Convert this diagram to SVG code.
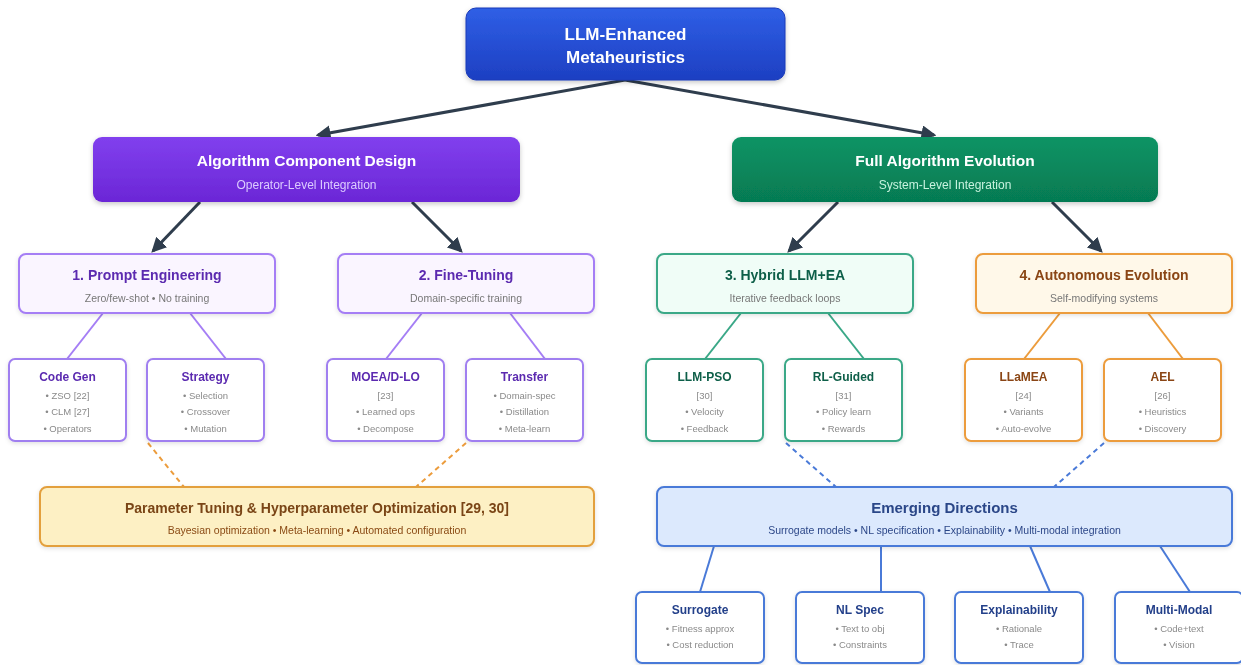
<svg xmlns="http://www.w3.org/2000/svg" width="1241" height="665" viewBox="0 0 1241 665">
<defs>
<linearGradient id="gBlue" x1="0" y1="0" x2="0" y2="1"><stop offset="0" stop-color="#2f5fe6"/><stop offset="1" stop-color="#1d3fc2"/></linearGradient>
<linearGradient id="gPurple" x1="0" y1="0" x2="0" y2="1"><stop offset="0" stop-color="#8140ee"/><stop offset="1" stop-color="#6b26d6"/></linearGradient>
<linearGradient id="gGreen" x1="0" y1="0" x2="0" y2="1"><stop offset="0" stop-color="#0a9465"/><stop offset="1" stop-color="#067a52"/></linearGradient>
<filter id="sh" x="-10%" y="-20%" width="120%" height="150%"><feDropShadow dx="0" dy="2" stdDeviation="2.5" flood-color="#000" flood-opacity="0.22"/></filter>
<filter id="shs" x="-10%" y="-20%" width="120%" height="150%"><feDropShadow dx="0" dy="1.5" stdDeviation="2" flood-color="#000" flood-opacity="0.12"/></filter>
<marker id="arr" viewBox="0 0 12 12" refX="10" refY="6" markerWidth="5" markerHeight="5" orient="auto" markerUnits="strokeWidth"><path d="M0,0 L12,6 L0,12 z" fill="#2f3d4d"/></marker>
</defs>
<style>
text{font-family:"Liberation Sans",Arial,sans-serif;text-anchor:middle}
.t1{font-size:17px;font-weight:bold;fill:#fff}
.t2{font-size:15.5px;font-weight:bold;fill:#fff}
.s2p{font-size:12px;fill:#dccbff}
.s2g{font-size:12px;fill:#c9f2de}
.t3{font-size:14px;font-weight:bold}
.s3{font-size:10.5px;fill:#777}
.tl{font-size:12px;font-weight:bold}
.sl{font-size:9.5px;fill:#8a8a8a}
.main{stroke:#2f3d4d;stroke-width:3;fill:none}
.big{filter:url(#sh)}
.box{filter:url(#shs)}
.pu3{fill:#faf5ff;stroke:#a57ef5;stroke-width:2}
.gr3{fill:#f0fdf7;stroke:#3aa887;stroke-width:2}
.or3{fill:#fff8e9;stroke:#ec9c3c;stroke-width:2}
.puL{fill:#fff;stroke:#a07ff0;stroke-width:2}
.grL{fill:#fff;stroke:#3aa887;stroke-width:2}
.orL{fill:#fff;stroke:#ec9c3c;stroke-width:2}
.blL{fill:#fff;stroke:#4a7ad8;stroke-width:2}
.cp{fill:#5b2bb0}.cg{fill:#0f5f48}.co{fill:#8a4512}.cb{fill:#24408a}
</style>

<g id="connectors">
<line class="main" x1="625" y1="80" x2="318" y2="135" marker-end="url(#arr)"/>
<line class="main" x1="625" y1="80" x2="934" y2="135" marker-end="url(#arr)"/>
<line class="main" x1="200" y1="202" x2="153" y2="251" marker-end="url(#arr)"/>
<line class="main" x1="412" y1="202" x2="461" y2="251" marker-end="url(#arr)"/>
<line class="main" x1="838" y1="202" x2="789" y2="251" marker-end="url(#arr)"/>
<line class="main" x1="1052" y1="202" x2="1101" y2="251" marker-end="url(#arr)"/>
<g stroke="#a57ef5" stroke-width="2" fill="none">
<line x1="103" y1="313" x2="67" y2="359"/><line x1="190" y1="313" x2="226" y2="359"/>
<line x1="422" y1="313" x2="386" y2="359"/><line x1="510" y1="313" x2="545" y2="359"/>
</g>
<g stroke="#3aa887" stroke-width="2" fill="none">
<line x1="741" y1="313" x2="705" y2="359"/><line x1="828" y1="313" x2="864" y2="359"/>
</g>
<g stroke="#ec9c3c" stroke-width="2" fill="none">
<line x1="1060" y1="313" x2="1024" y2="359"/><line x1="1148" y1="313" x2="1183" y2="359"/>
</g>
<g stroke="#ec9c3c" stroke-width="2" fill="none" stroke-dasharray="5,4">
<line x1="148" y1="443" x2="184" y2="487"/><line x1="466" y1="443" x2="416" y2="487"/>
</g>
<g stroke="#4a7ad8" stroke-width="2" fill="none" stroke-dasharray="5,4">
<line x1="786" y1="443" x2="836" y2="487"/><line x1="1104" y1="443" x2="1054" y2="487"/>
</g>
<g stroke="#4a7ad8" stroke-width="2" fill="none">
<line x1="714" y1="546" x2="700" y2="592"/><line x1="881" y1="546" x2="881" y2="592"/>
<line x1="1030" y1="546" x2="1050" y2="592"/><line x1="1160" y1="546" x2="1190" y2="592"/>
</g>
</g>

<g id="root" class="big"><rect x="466" y="8" width="319" height="72" rx="10" fill="url(#gBlue)" stroke="#1a3bb8" stroke-width="1"/>
<text class="t1" x="625.5" y="40">LLM-Enhanced</text><text class="t1" x="625.5" y="63">Metaheuristics</text></g>

<g id="acd" class="big"><rect x="93" y="137" width="427" height="65" rx="9" fill="url(#gPurple)"/>
<text class="t2" x="306.5" y="166">Algorithm Component Design</text><text class="s2p" x="306.5" y="189">Operator-Level Integration</text></g>

<g id="fae" class="big"><rect x="732" y="137" width="426" height="65" rx="9" fill="url(#gGreen)"/>
<text class="t2" x="945" y="166">Full Algorithm Evolution</text><text class="s2g" x="945" y="189">System-Level Integration</text></g>

<g id="prompt" class="box"><rect class="pu3" x="19" y="254" width="256" height="59" rx="7"/>
<text class="t3 cp" x="147" y="280">1. Prompt Engineering</text><text class="s3" x="147" y="302">Zero/few-shot • No training</text></g>
<g id="finetune" class="box"><rect class="pu3" x="338" y="254" width="256" height="59" rx="7"/>
<text class="t3 cp" x="466" y="280">2. Fine-Tuning</text><text class="s3" x="466" y="302">Domain-specific training</text></g>
<g id="hybrid" class="box"><rect class="gr3" x="657" y="254" width="256" height="59" rx="7"/>
<text class="t3 cg" x="785" y="280">3. Hybrid LLM+EA</text><text class="s3" x="785" y="302">Iterative feedback loops</text></g>
<g id="autonomous" class="box"><rect class="or3" x="976" y="254" width="256" height="59" rx="7"/>
<text class="t3 co" x="1104" y="280">4. Autonomous Evolution</text><text class="s3" x="1104" y="302">Self-modifying systems</text></g>

<g id="codegen" class="box"><rect class="puL" x="9" y="359" width="117" height="82" rx="6"/>
<text class="tl cp" x="67.5" y="381">Code Gen</text><text class="sl" x="67.5" y="399">• ZSO [22]</text><text class="sl" x="67.5" y="415">• CLM [27]</text><text class="sl" x="67.5" y="432">• Operators</text></g>
<g id="strategy" class="box"><rect class="puL" x="147" y="359" width="117" height="82" rx="6"/>
<text class="tl cp" x="205.5" y="381">Strategy</text><text class="sl" x="205.5" y="399">• Selection</text><text class="sl" x="205.5" y="415">• Crossover</text><text class="sl" x="205.5" y="432">• Mutation</text></g>
<g id="moead" class="box"><rect class="puL" x="327" y="359" width="117" height="82" rx="6"/>
<text class="tl cp" x="385.5" y="381">MOEA/D-LO</text><text class="sl" x="385.5" y="399">[23]</text><text class="sl" x="385.5" y="415">• Learned ops</text><text class="sl" x="385.5" y="432">• Decompose</text></g>
<g id="transfer" class="box"><rect class="puL" x="466" y="359" width="117" height="82" rx="6"/>
<text class="tl cp" x="524.5" y="381">Transfer</text><text class="sl" x="524.5" y="399">• Domain-spec</text><text class="sl" x="524.5" y="415">• Distillation</text><text class="sl" x="524.5" y="432">• Meta-learn</text></g>
<g id="llmpso" class="box"><rect class="grL" x="646" y="359" width="117" height="82" rx="6"/>
<text class="tl cg" x="704.5" y="381">LLM-PSO</text><text class="sl" x="704.5" y="399">[30]</text><text class="sl" x="704.5" y="415">• Velocity</text><text class="sl" x="704.5" y="432">• Feedback</text></g>
<g id="rlguided" class="box"><rect class="grL" x="785" y="359" width="117" height="82" rx="6"/>
<text class="tl cg" x="843.5" y="381">RL-Guided</text><text class="sl" x="843.5" y="399">[31]</text><text class="sl" x="843.5" y="415">• Policy learn</text><text class="sl" x="843.5" y="432">• Rewards</text></g>
<g id="llamea" class="box"><rect class="orL" x="965" y="359" width="117" height="82" rx="6"/>
<text class="tl co" x="1023.5" y="381">LLaMEA</text><text class="sl" x="1023.5" y="399">[24]</text><text class="sl" x="1023.5" y="415">• Variants</text><text class="sl" x="1023.5" y="432">• Auto-evolve</text></g>
<g id="ael" class="box"><rect class="orL" x="1104" y="359" width="117" height="82" rx="6"/>
<text class="tl co" x="1162.5" y="381">AEL</text><text class="sl" x="1162.5" y="399">[26]</text><text class="sl" x="1162.5" y="415">• Heuristics</text><text class="sl" x="1162.5" y="432">• Discovery</text></g>

<g id="paramtuning" class="box"><rect x="40" y="487" width="554" height="59" rx="7" fill="#fdf0c4" stroke="#e3a03e" stroke-width="2"/>
<text x="317" y="513" style="font-size:14px;font-weight:bold;fill:#7a4516">Parameter Tuning &amp; Hyperparameter Optimization [29, 30]</text>
<text x="317" y="534" style="font-size:10.5px;fill:#8a4a14">Bayesian optimization • Meta-learning • Automated configuration</text></g>

<g id="emerging" class="box"><rect x="657" y="487" width="575" height="59" rx="7" fill="#dce9fd" stroke="#4a7ad8" stroke-width="2"/>
<text x="944.5" y="513" style="font-size:15px;font-weight:bold;fill:#2c4788">Emerging Directions</text>
<text x="944.5" y="534" style="font-size:10.5px;fill:#2c4788">Surrogate models • NL specification • Explainability • Multi-modal integration</text></g>

<g id="surrogate" class="box"><rect class="blL" x="636" y="592" width="128" height="71" rx="6"/>
<text class="tl cb" x="700" y="614">Surrogate</text><text class="sl" x="700" y="632">• Fitness approx</text><text class="sl" x="700" y="648">• Cost reduction</text></g>
<g id="nlspec" class="box"><rect class="blL" x="796" y="592" width="128" height="71" rx="6"/>
<text class="tl cb" x="860" y="614">NL Spec</text><text class="sl" x="860" y="632">• Text to obj</text><text class="sl" x="860" y="648">• Constraints</text></g>
<g id="explain" class="box"><rect class="blL" x="955" y="592" width="128" height="71" rx="6"/>
<text class="tl cb" x="1019" y="614">Explainability</text><text class="sl" x="1019" y="632">• Rationale</text><text class="sl" x="1019" y="648">• Trace</text></g>
<g id="multimodal" class="box"><rect class="blL" x="1115" y="592" width="128" height="71" rx="6"/>
<text class="tl cb" x="1179" y="614">Multi-Modal</text><text class="sl" x="1179" y="632">• Code+text</text><text class="sl" x="1179" y="648">• Vision</text></g>
</svg>
